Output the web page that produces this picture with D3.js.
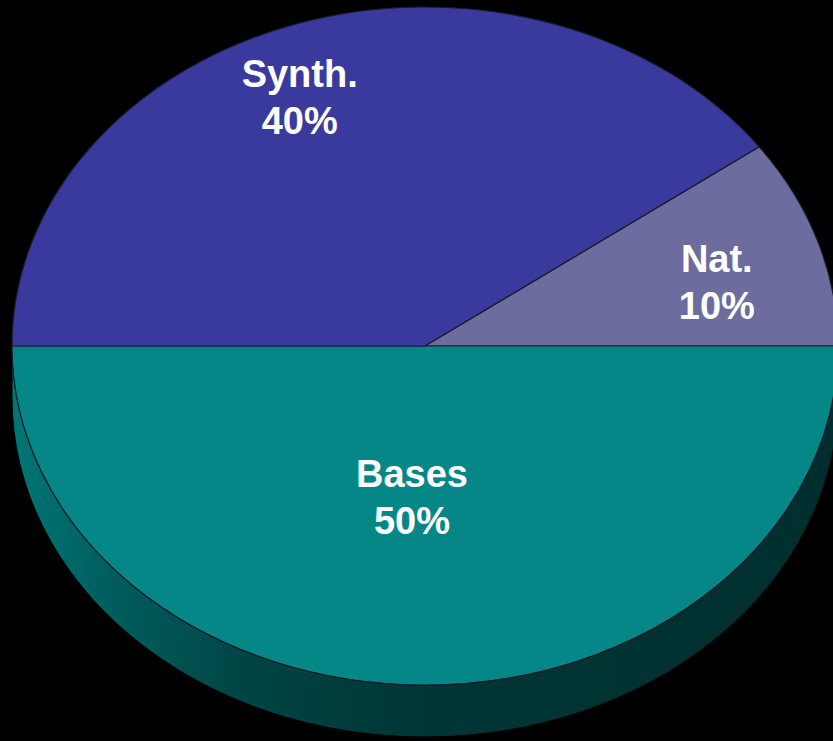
<!DOCTYPE html>
<html>
<head>
<meta charset="utf-8">
<script src="https://cdn.jsdelivr.net/npm/d3@7"></script>
<style>
  body { margin: 0; background: #000; }
  svg { display: block; }
</style>
</head>
<body>
<svg id="viz" width="833" height="741"></svg>
<script>
// slice data, in drawing order (clockwise from the Nat/Synth divider)
var categories = ["Nat.", "Bases", "Synth."];
var shares = [10, 50, 40];
var pctLabels = ["10%", "50%", "40%"];
var colors = ["#6c6c9e", "#068787", "#3a3a9e"];

// layout
var cx = 425, cy = 346, rx = 413, ry = 339, depth = 52;
var sy = ry / rx;
// label placement, fraction of radius + angular nudge (radians)
var labelPos = [{r: 0.73, da: 0.06}, {r: 0.45, da: 0.07}, {r: 0.79, da: -0.08}];

var svg = d3.select("#viz");

var defs = svg.append("defs");
var grad = defs.append("linearGradient")
    .attr("id", "sideGrad")
    .attr("gradientUnits", "userSpaceOnUse")
    .attr("x1", -rx).attr("x2", rx).attr("y1", 0).attr("y2", 0);
grad.append("stop").attr("offset", "0%").attr("stop-color", "#017676");
grad.append("stop").attr("offset", "12%").attr("stop-color", "#005d5d");
grad.append("stop").attr("offset", "28%").attr("stop-color", "#004545");
grad.append("stop").attr("offset", "48%").attr("stop-color", "#003636");
grad.append("stop").attr("offset", "100%").attr("stop-color", "#002e2e");

var g = svg.append("g")
    .attr("transform", "translate(" + cx + "," + cy + ") scale(1," + sy + ")");

// side wall of the front half
var d = depth / sy;
var p = d3.path();
p.moveTo(rx, 0);
p.arc(0, 0, rx, 0, Math.PI, false);
p.lineTo(-rx, d);
p.arc(0, d, rx, Math.PI, 0, true);
p.closePath();
g.append("path")
    .attr("d", p.toString())
    .attr("fill", "url(#sideGrad)")
    .attr("stroke", "#000")
    .attr("stroke-width", 1)
    .attr("vector-effect", "non-scaling-stroke");

var pie = d3.pie()
    .sort(null)
    .startAngle(0.3 * Math.PI)
    .endAngle(2.3 * Math.PI);

var arcs = pie(shares);
var arc = d3.arc().innerRadius(0).outerRadius(rx);

g.selectAll("path.slice")
    .data(arcs)
    .enter()
    .append("path")
    .attr("class", "slice")
    .attr("d", arc)
    .attr("fill", (a, i) => colors[i])
    .attr("stroke", "#1a1a2a")
    .attr("stroke-width", 1.2)
    .attr("vector-effect", "non-scaling-stroke");

// labels, placed in unscaled page space
var labels = svg.append("g")
    .attr("font-family", "'Liberation Sans', Arial, sans-serif")
    .attr("font-weight", "bold")
    .attr("font-size", 38)
    .attr("fill", "#fff")
    .attr("text-anchor", "middle");

arcs.forEach(function(a, i) {
    var mid = (a.startAngle + a.endAngle) / 2 + labelPos[i].da;
    var x = cx + Math.sin(mid) * rx * labelPos[i].r;
    var y = cy - Math.cos(mid) * ry * labelPos[i].r;
    var t = labels.append("text")
        .attr("x", x)
        .attr("y", y);
    t.append("tspan").attr("x", x).attr("dy", "-0.3em").text(categories[i]);
    t.append("tspan").attr("x", x).attr("dy", "1.24em").text(pctLabels[i]);
});
</script>
</body>
</html>
